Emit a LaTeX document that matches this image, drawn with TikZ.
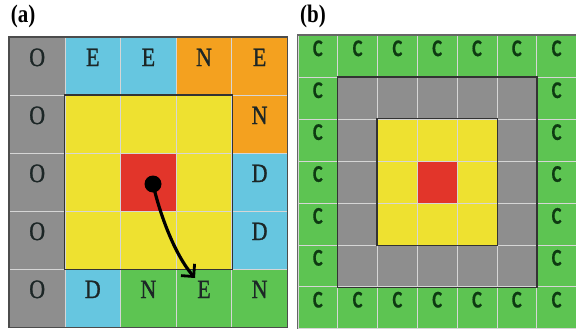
\documentclass[tikz,border=0pt]{standalone}
\usepackage{fontspec}
\usepackage{graphicx}
\setmainfont{Liberation Serif}
\newfontfamily\afont[FakeBold=1.2]{Liberation Serif}
\newfontfamily\cfont[FakeBold=0.6]{Carlito}
\usetikzlibrary{arrows.meta}
\definecolor{cgray}{HTML}{8E8E8E}
\definecolor{cblue}{HTML}{66C6E0}
\definecolor{corange}{HTML}{F4A11F}
\definecolor{cyellow}{HTML}{EEE130}
\definecolor{cred}{HTML}{E2352A}
\definecolor{cgreen}{HTML}{5DC452}
\definecolor{gridc}{HTML}{D6D6D6}
\definecolor{txta}{HTML}{1C2626}
\definecolor{txtb}{HTML}{0E3A12}
\newcommand{\tallA}[1]{\scalebox{1}[1.2]{#1}}
\newcommand{\tallB}[1]{\scalebox{1}[1.3]{#1}}
\begin{document}
\begin{tikzpicture}[x=1pt,y=-1pt,
  cella/.style={draw=gridc, line width=0.8pt, minimum width=55.6pt, minimum height=58pt, inner sep=0pt, anchor=north west},
  cellb/.style={draw=gridc, line width=0.8pt, minimum width=39.8pt, minimum height=41.9pt, inner sep=0pt, anchor=north west},
  labela/.style={font=\afont\fontsize{22}{22}\selectfont, text=txta, inner sep=0pt},
  labelb/.style={font=\cfont\bfseries\fontsize{18.5}{18.5}\selectfont, text=txtb, inner sep=0pt},
  frame/.style={draw=black!80, line width=1.3pt},
  title/.style={font=\bfseries\fontsize{21}{21}\selectfont, inner sep=0pt}]
\useasboundingbox (0,0) rectangle (576,329);
% ---------- panel (a) ----------
\node[title] (ta) at (23,16) {\tallA{(a)}};
\foreach \r/\row in {1/{cgray,cblue,cblue,corange,corange},
                     2/{cgray,cyellow,cyellow,cyellow,corange},
                     3/{cgray,cyellow,cred,cyellow,cblue},
                     4/{cgray,cyellow,cyellow,cyellow,cblue},
                     5/{cgray,cblue,cgreen,cgreen,cgreen}}{
  \foreach \col [count=\c] in \row {
    \node[cella, fill=\col] (a-\r-\c) at ({9+(\c-1)*55.6},{37+(\r-1)*58}) {};
  }
}
\foreach \r/\c/\t in {1/1/O,1/2/E,1/3/E,1/4/N,1/5/E,
                      2/1/O,2/5/N,
                      3/1/O,3/5/D,
                      4/1/O,4/5/D,
                      5/1/O,5/2/D,5/3/N,5/4/E,5/5/N}{
  \node[labela] (la-\r-\c) at ([yshift=9pt]a-\r-\c.center) {\tallA{\t}};
}
\draw[draw=black!70, line width=1.2pt] (a-1-1.north west) rectangle (a-5-5.south east);
\draw[frame] (a-2-2.north west) rectangle (a-4-4.south east);
\node[circle, fill=black, minimum size=17pt, inner sep=0pt] (dot) at (153,184) {};
\coordinate (tip) at (195,278);
\draw[line width=3.2pt, -{Straight Barb[length=9pt,width=18pt,line width=2.8pt]}]
  (dot.center) .. controls (160,215) and (175,255) .. (tip);
% ---------- panel (b) ----------
\node[title] (tb) at (313,16) {\tallA{(b)}};
\foreach \r in {1,...,7}{
  \foreach \c in {1,...,7}{
    \pgfmathtruncatemacro{\ring}{min(min(\r,\c),min(8-\r,8-\c))}
    \ifcase\ring\or
      \def\fc{cgreen}\or \def\fc{cgray}\or \def\fc{cyellow}\or \def\fc{cred}\fi
    \node[cellb, fill=\fc] (b-\r-\c) at ({297.5+(\c-1)*39.8},{35+(\r-1)*41.9}) {};
    \ifnum\ring=1
      \node[labelb] (lb-\r-\c) at ([yshift=8pt]b-\r-\c.center) {\tallB{C}};
    \fi
  }
}
\draw[draw=black!60, line width=1.2pt] (b-1-1.north west) rectangle (b-7-7.south east);
\draw[frame] (b-2-2.north west) rectangle (b-6-6.south east);
\draw[frame] (b-3-3.north west) rectangle (b-5-5.south east);
\end{tikzpicture}
\end{document}
